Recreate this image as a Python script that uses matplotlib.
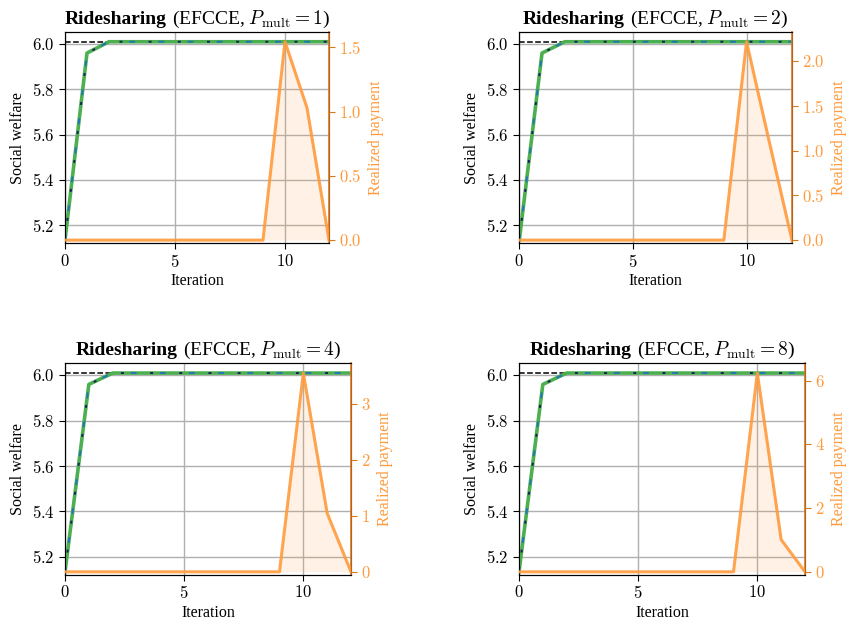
import matplotlib
matplotlib.use('Agg')

import matplotlib.pyplot as plt
from matplotlib.ticker import FuncFormatter, MultipleLocator
from matplotlib.offsetbox import TextArea, HPacker, AnchoredOffsetbox

plt.rcParams['font.family'] = ['Liberation Serif', 'DejaVu Serif']
plt.rcParams['mathtext.fontset'] = 'cm'

# ------------------------------------------------------------
# Datos
# ------------------------------------------------------------
iteraciones = list(range(13))
p_mult = [1, 2, 4, 8]

optimo = 6.01
bienestar_azul = [5.134, 5.96, 6.01, 6.01, 6.01, 6.01, 6.01, 6.01, 6.01, 6.01, 6.01, 6.01, 6.01]
bienestar_marino = [5.134, 5.96, 6.01, 6.01, 6.01, 6.01, 6.01, 6.01, 6.01, 6.01, 6.01, 6.01, 6.01]
bienestar_verde = [5.134, 5.96, 6.01, 6.01, 6.01, 6.01, 6.01, 6.01, 6.01, 6.01, 6.01, 6.01, 6.01]

pagos_p1 = [0, 0, 0, 0, 0, 0, 0, 0, 0, 0, 1.544, 1.03, 0]
pagos_p2 = [0, 0, 0, 0, 0, 0, 0, 0, 0, 0, 2.22, 1.10, 0]
pagos_p4 = [0, 0, 0, 0, 0, 0, 0, 0, 0, 0, 3.56, 1.05, 0]
pagos_p8 = [0, 0, 0, 0, 0, 0, 0, 0, 0, 0, 6.24, 1.01, 0]
pagos = [pagos_p1, pagos_p2, pagos_p4, pagos_p8]

paso_ticks_der = [0.5, 0.5, 1, 2]
formato_der = ["{:.1f}", "{:.1f}", "{:.0f}", "{:.0f}"]

# posiciones en pixeles: izquierda, derecha, arriba, abajo
W, H = 852, 631
cajas = [(65, 329, 32, 243.3), (519.3, 792, 32, 243.3),
         (65, 351, 363.3, 575), (519, 805, 363.3, 575)]

NARANJA = '#ff9a3c'
NARANJA_OSC = '#d9781c'

fig = plt.figure(figsize=(W / 100, H / 100), dpi=100)

y_lo, y_hi = 5.12, 6.053

for i in range(4):
    l, r, t, b = cajas[i]
    ax = fig.add_axes([l / W, 1 - b / H, (r - l) / W, (b - t) / H])
    ax2 = ax.twinx()

    # Bienestar social
    ax.plot(iteraciones, [optimo] * len(iteraciones), color='k', ls='--', lw=1.1, zorder=2)
    ax.plot(iteraciones, bienestar_verde, color='#4caf50', lw=2.6, zorder=3)
    ax.plot(iteraciones, bienestar_azul, color='#1f77b4', lw=1.4, dashes=(3, 12), zorder=4)
    ax.plot(iteraciones, bienestar_marino, color='#1a1f5c', lw=1.4, ls=(5, (1.5, 13.5)), zorder=5)

    ax.set_xlim(0, 12)
    ax.set_ylim(y_lo, y_hi)
    ax.set_yticks([5.2, 5.4, 5.6, 5.8, 6.0])
    ax.set_xticks([0, 5, 10])
    ax.yaxis.set_major_formatter(FuncFormatter(lambda v, p: "${:.1f}$".format(v)))
    ax.xaxis.set_major_formatter(FuncFormatter(lambda v, p: "${:g}$".format(v)))
    ax.tick_params(labelsize=12, length=4)
    ax.grid(True, color='#b0b0b0', lw=1.0, zorder=0)
    ax.set_axisbelow(True)
    ax.set_xlabel("Iteration", fontsize=11.5, labelpad=2)
    ax.set_ylabel("Social welfare", fontsize=11.5)

    # Pago realizado
    pico = max(pagos[i])
    frac_lo = (bienestar_verde[0] - y_lo) / (optimo - bienestar_verde[0])
    frac_hi = (y_hi - optimo) / (optimo - bienestar_verde[0])
    ax2.plot(iteraciones, pagos[i], color=NARANJA, lw=2.2, alpha=0.9, zorder=3)
    ax2.fill_between(iteraciones, 0, pagos[i], color=NARANJA, alpha=0.13, lw=0)
    ax2.set_ylim(-frac_lo * pico, pico * (1 + frac_hi))
    ax2.yaxis.set_major_locator(MultipleLocator(paso_ticks_der[i]))
    fmt = formato_der[i]
    ax2.yaxis.set_major_formatter(FuncFormatter(lambda v, p, fmt=fmt: "$" + fmt.format(v) + "$"))
    ax2.tick_params(axis='y', colors=NARANJA, labelsize=12, length=4)
    ax2.tick_params(axis='y', color=NARANJA_OSC)
    ax2.spines['right'].set_color(NARANJA_OSC)
    ax2.spines['right'].set_linewidth(1.2)
    ax2.set_ylabel("Realized payment", color=NARANJA, fontsize=11.5)

    # Titulo: parte en negrita + parte normal
    t1 = TextArea("Ridesharing", textprops=dict(fontsize=14, fontweight='bold'))
    t2 = TextArea(r"(EFCCE, $P_{\mathrm{mult}} = %d$)" % p_mult[i], textprops=dict(fontsize=14))
    caja = HPacker(children=[t1, t2], align='baseline', pad=0, sep=4)
    anc = AnchoredOffsetbox(loc='lower center', child=caja, pad=0, frameon=False,
                            bbox_to_anchor=(0.5, 1.0), bbox_transform=ax.transAxes,
                            borderpad=0.15)
    ax.add_artist(anc)

plt.savefig("out.png", dpi=100)
plt.close()
